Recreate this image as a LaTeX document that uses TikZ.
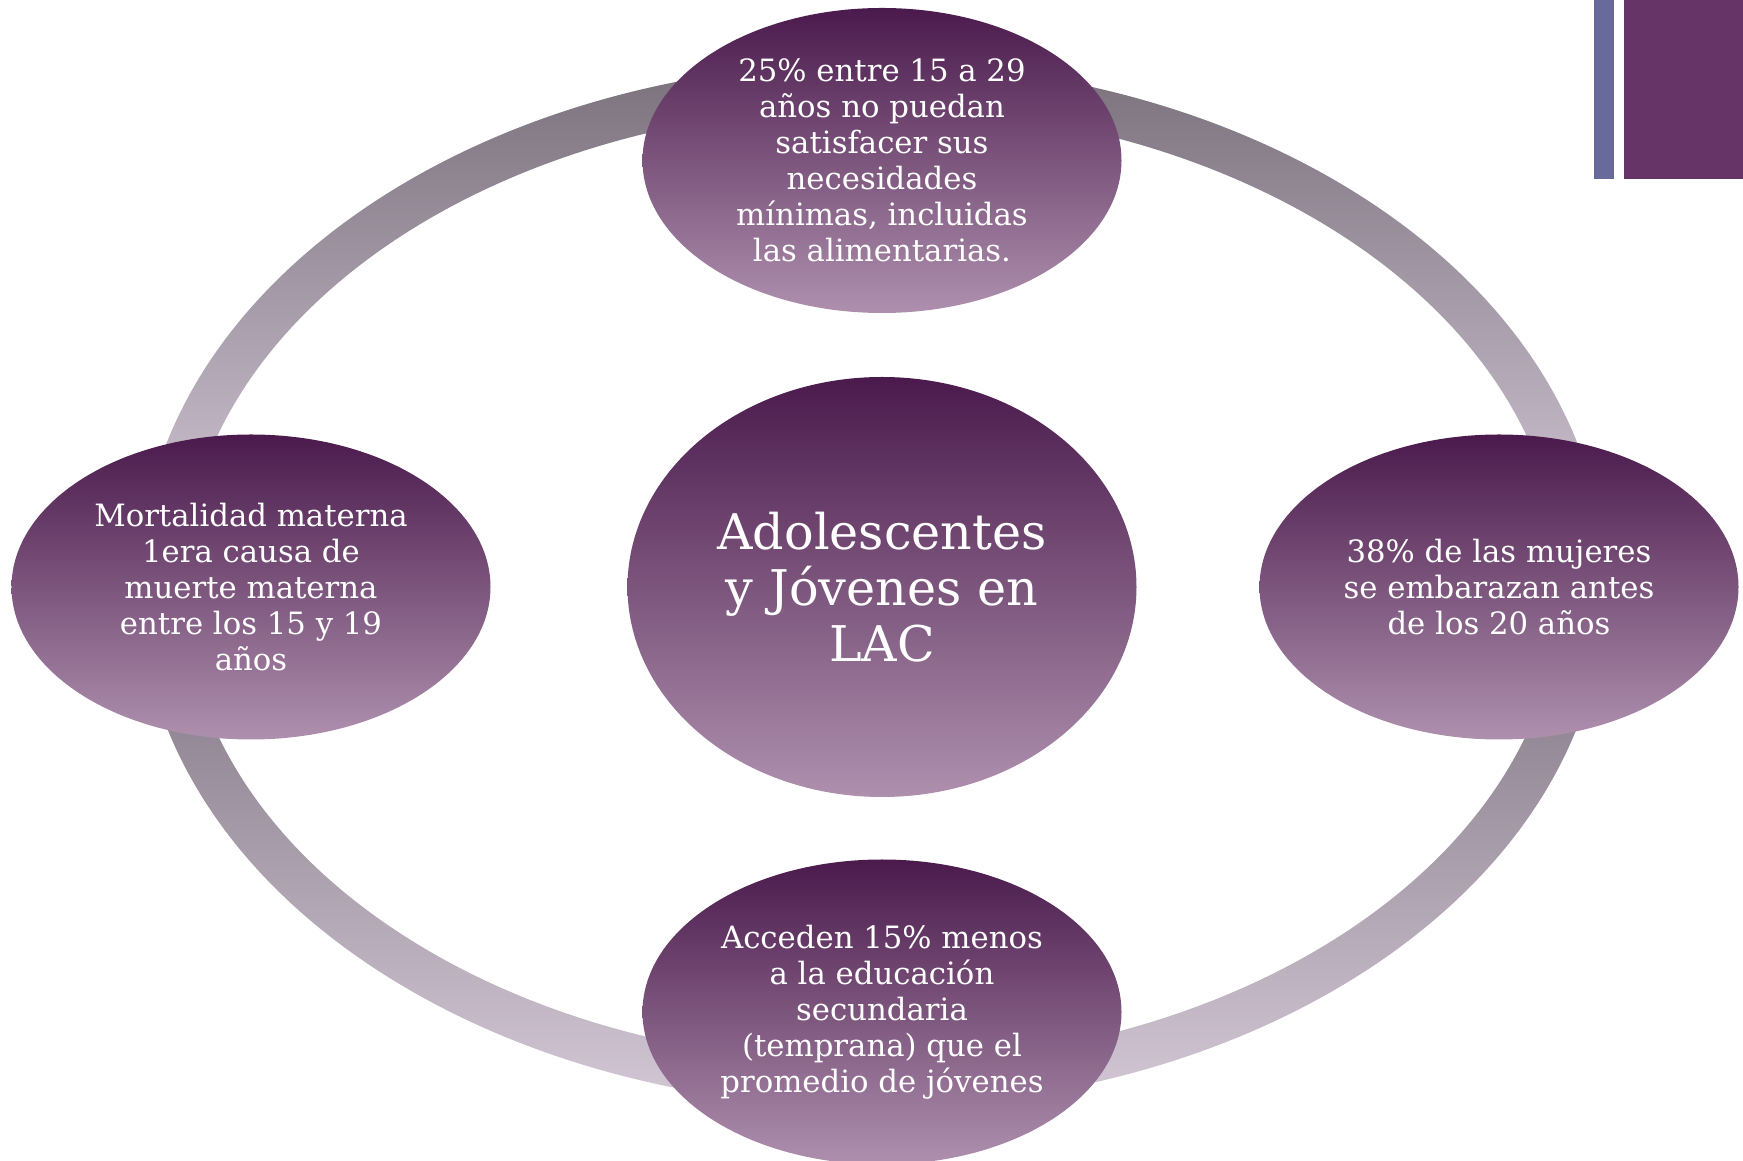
\documentclass[tikz,border=0pt]{standalone}
\usepackage{fontspec}
\setmainfont{DejaVu Serif}
\usetikzlibrary{shapes.geometric,positioning}

\definecolor{bubtop}{HTML}{4A1A4C}
\definecolor{bubbot}{HTML}{AE90AE}
\definecolor{ringdark}{HTML}{7B717D}
\definecolor{ringmid}{HTML}{C6BAC8}
\definecolor{ringlow}{HTML}{8D8290}
\definecolor{ringpale}{HTML}{D4C8D6}
\definecolor{barblue}{HTML}{676A9A}
\definecolor{barplum}{HTML}{663466}

\tikzset{
  bubble/.style={ellipse, top color=bubtop, bottom color=bubbot, text=white,
    align=center, inner sep=0pt, minimum width=9.58cm, minimum height=6.1cm,
    font=\fontsize{17.5}{20.5}\selectfont},
  hub/.style={bubble, minimum width=10.18cm, minimum height=8.4cm,
    font=\fontsize{28}{32}\selectfont}
}

\begin{document}
\begin{tikzpicture}
	\useasboundingbox (0,0) rectangle (34.86,23.2);
	\coordinate (ringc) at (17.44,11.5);
	% ring in four shaded pieces
	\foreach \a/\b/\ct/\cb in {90/167/ringdark/ringmid, 13/90/ringdark/ringmid, 193/270/ringlow/ringpale, 270/347/ringlow/ringpale}
		\shade[top color=\ct, bottom color=\cb] ([shift={(\a:14.66cm and 10.44cm)}]ringc)
			arc[start angle=\a, end angle=\b, x radius=14.66cm, y radius=10.44cm]
			-- ([shift={(\b:13.78cm and 9.56cm)}]ringc)
			arc[start angle=\b, end angle=\a, x radius=13.78cm, y radius=9.56cm] -- cycle;

	\node[hub] (lac) at (17.64,11.46) {Adolescentes\\y Jóvenes en\\LAC};
	\node[bubble] (sat) [above of=lac, node distance=8.53cm] {25\% entre 15 a 29\\años no puedan\\satisfacer sus\\necesidades\\mínimas, incluidas\\las alimentarias.};
	\node[bubble] (mort) [left of=lac, node distance=12.62cm] {Mortalidad materna\\1era causa de\\muerte materna\\entre los 15 y 19\\años};
	\node[bubble] (emb) [right of=lac, node distance=12.34cm] {38\% de las mujeres\\se embarazan antes\\de los 20 años};
	\node[bubble] (edu) [below of=lac, node distance=8.5cm] {Acceden 15\% menos\\a la educación\\secundaria\\(temprana) que el\\promedio de jóvenes};

	% corner bars
	\fill[barblue] (31.88,19.62) rectangle (32.28,23.2);
	\fill[barplum] (32.48,19.62) rectangle (34.86,23.2);
\end{tikzpicture}
\end{document}
